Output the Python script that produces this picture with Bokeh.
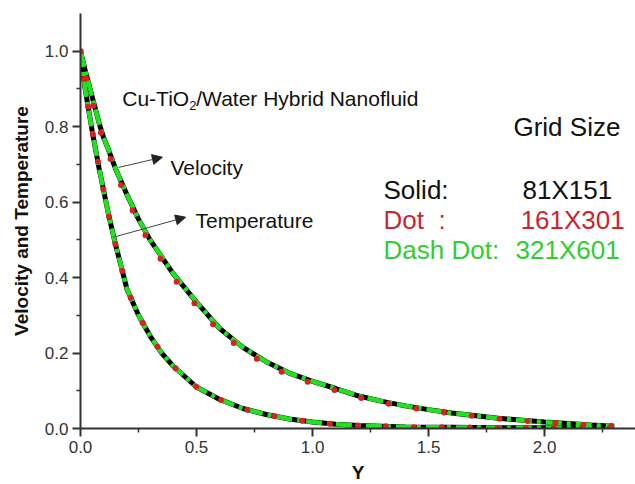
from bokeh.plotting import figure
from bokeh.models import Range1d, FixedTicker, PrintfTickFormatter, Label, Arrow, NormalHead
from bokeh.embed import file_html
from bokeh.resources import INLINE

# ---- data ----
y_pos = [0, 0.02, 0.05, 0.08, 0.1, 0.12, 0.15, 0.2, 0.25, 0.3, 0.35, 0.4, 0.5, 0.6,
         0.7, 0.8, 0.9, 1.0, 1.1, 1.2, 1.3, 1.4, 1.5, 1.6, 1.8, 2.0, 2.2, 2.3]

vel_81 = [1.0, 0.95, 0.88, 0.81, 0.77, 0.74, 0.69, 0.62, 0.555, 0.50, 0.455, 0.41, 0.335, 0.265,
          0.215, 0.177, 0.147, 0.125, 0.106, 0.086, 0.072, 0.060, 0.050, 0.041, 0.027, 0.017, 0.009, 0.006]
vel_161 = [1.0, 0.94, 0.87, 0.80, 0.76, 0.73, 0.68, 0.61, 0.545, 0.49, 0.445, 0.40, 0.325, 0.257,
           0.207, 0.170, 0.141, 0.119, 0.101, 0.082, 0.069, 0.058, 0.048, 0.040, 0.026, 0.016, 0.009, 0.006]
vel_321 = [1.0, 0.95, 0.88, 0.81, 0.77, 0.74, 0.69, 0.62, 0.555, 0.50, 0.455, 0.41, 0.335, 0.265,
           0.215, 0.177, 0.147, 0.125, 0.106, 0.086, 0.072, 0.060, 0.050, 0.041, 0.027, 0.017, 0.009, 0.006]

tmp_81 = [1.0, 0.90, 0.79, 0.69, 0.63, 0.57, 0.49, 0.37, 0.30, 0.245, 0.20, 0.165, 0.11, 0.077,
          0.053, 0.037, 0.025, 0.017, 0.011, 0.008, 0.006, 0.004, 0.003, 0.003, 0.002, 0.002, 0.001, 0.001]
tmp_161 = [1.0, 0.90, 0.79, 0.69, 0.63, 0.57, 0.49, 0.37, 0.30, 0.245, 0.20, 0.165, 0.11, 0.077,
           0.053, 0.037, 0.025, 0.017, 0.011, 0.008, 0.006, 0.004, 0.003, 0.003, 0.002, 0.002, 0.001, 0.001]
tmp_321 = [1.0, 0.90, 0.79, 0.69, 0.63, 0.57, 0.49, 0.37, 0.30, 0.245, 0.20, 0.165, 0.11, 0.077,
           0.053, 0.037, 0.025, 0.017, 0.011, 0.008, 0.006, 0.004, 0.003, 0.003, 0.002, 0.002, 0.001, 0.001]

x_ticks = [0.0, 0.5, 1.0, 1.5, 2.0]
x_minor = [0.25, 0.75, 1.25, 1.75, 2.25]
y_ticks = [0.0, 0.2, 0.4, 0.6, 0.8, 1.0]
y_minor = [0.1, 0.3, 0.5, 0.7, 0.9]

grid_labels = ["Solid:", "Dot\u00a0\u00a0:", "Dash Dot:"]
grid_sizes = ["81X151", "161X301", "321X601"]

BLACK = "#000000"
RED = "#d62222"
GREEN = "#22e022"
TXT_RED = "#c8282d"
TXT_GREEN = "#33cc33"
FONT = "Liberation Sans"

p = figure(frame_width=555, frame_height=415, output_backend="svg", toolbar_location=None,
           x_range=Range1d(0, 2.392), y_range=Range1d(0, 1.1),
           min_border_left=80, min_border_right=0, min_border_top=13, min_border_bottom=40)
p.outline_line_color = None
p.grid.visible = False
p.background_fill_color = "white"
p.border_fill_color = "white"

for ax in (p.xaxis[0], p.yaxis[0]):
    ax.axis_line_width = 2
    ax.axis_line_color = "#333333"
    ax.major_tick_in = 0
    ax.major_tick_out = 8
    ax.minor_tick_in = 0
    ax.minor_tick_out = 4
    ax.major_tick_line_width = 2
    ax.minor_tick_line_width = 1.5
    ax.major_tick_line_color = "#333333"
    ax.minor_tick_line_color = "#333333"
    ax.major_label_text_font = FONT
    ax.major_label_text_font_size = "17px"
    ax.major_label_text_color = "#333333"
    ax.formatter = PrintfTickFormatter(format="%.1f")

p.xaxis.ticker = FixedTicker(ticks=x_ticks, minor_ticks=x_minor)
p.yaxis.ticker = FixedTicker(ticks=y_ticks, minor_ticks=y_minor)
p.xaxis.major_label_standoff = 4
p.yaxis.major_label_standoff = 4

p.xaxis.axis_label = "Y"
p.xaxis.axis_label_text_font = FONT
p.xaxis.axis_label_text_font_style = "bold"
p.xaxis.axis_label_text_font_size = "19px"
p.xaxis.axis_label_text_color = "#111111"
p.xaxis.axis_label_standoff = 6

p.yaxis.axis_label = "Velocity and Temperature"
p.yaxis.axis_label_text_font = FONT
p.yaxis.axis_label_text_font_style = "bold"
p.yaxis.axis_label_text_font_size = "19px"
p.yaxis.axis_label_text_color = "#111111"
p.yaxis.axis_label_standoff = 10

# curves: solid (81x151), dot (161x301), dash-dot (321x601)
for vals in (vel_81, tmp_81):
    p.line(y_pos, vals, line_color=BLACK, line_width=5)
for vals in (vel_321, tmp_321):
    p.line(y_pos, vals, line_color=GREEN, line_width=4.5, line_dash="16 5 4 5")
for vals in (vel_161, tmp_161):
    p.line(y_pos, vals, line_color=RED, line_width=6, line_dash="0 28", line_cap="round")

# title-like annotation with subscript
p.add_layout(Label(x=0.18, y=0.875, text="Cu-TiO", text_font=FONT, text_font_size="21px",
                   text_baseline="alphabetic", text_color="#111111"))
p.add_layout(Label(x=0.18, y=0.857, x_offset=67, text="2", text_font=FONT, text_font_size="13px",
                   text_baseline="alphabetic", text_color="#111111"))
p.add_layout(Label(x=0.18, y=0.875, x_offset=74, text="/Water Hybrid Nanofluid", text_font=FONT,
                   text_font_size="21px", text_baseline="alphabetic", text_color="#111111"))

p.add_layout(Label(x=0.388, y=0.692, text="Velocity", text_font=FONT, text_font_size="21px",
                   text_baseline="alphabetic", text_color="#111111"))
p.add_layout(Label(x=0.496, y=0.552, text="Temperature", text_font=FONT, text_font_size="21px",
                   text_baseline="alphabetic", text_color="#111111"))

p.add_layout(Arrow(end=NormalHead(size=10, fill_color="#222222", line_color="#222222"),
                   x_start=0.164, y_start=0.692, x_end=0.353, y_end=0.719,
                   line_color="#444444", line_width=1))
p.add_layout(Arrow(end=NormalHead(size=10, fill_color="#222222", line_color="#222222"),
                   x_start=0.142, y_start=0.507, x_end=0.453, y_end=0.560,
                   line_color="#444444", line_width=1))

# grid-size legend text
p.add_layout(Label(x=1.866, y=0.798, text="Grid Size", text_font=FONT, text_font_size="26px",
                   text_baseline="alphabetic", text_color="#111111"))
label_cols = ["#111111", TXT_RED, TXT_GREEN]
label_y = [0.631, 0.552, 0.472]
size_x = [1.905, 1.897, 1.875]
for lab, sz, col, yy, sx in zip(grid_labels, grid_sizes, label_cols, label_y, size_x):
    p.add_layout(Label(x=1.306, y=yy, text=lab, text_font=FONT, text_font_size="26px",
                       text_baseline="alphabetic", text_color=col))
    p.add_layout(Label(x=sx, y=yy, text=sz, text_font=FONT, text_font_size="26px",
                       text_baseline="alphabetic", text_color=col))

open("out.html", "w").write(file_html(p, INLINE))
